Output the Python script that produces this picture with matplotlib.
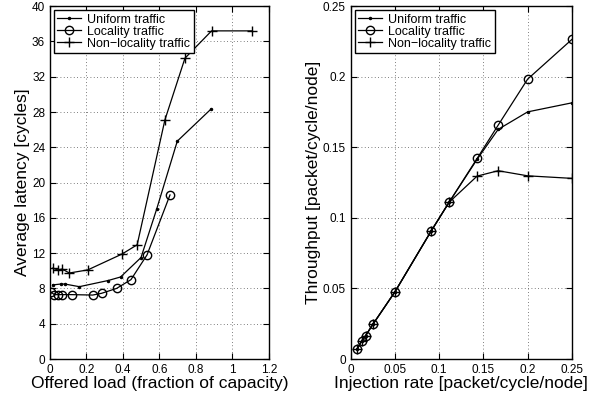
import matplotlib.pyplot as plt

plt.rcParams['font.family'] = ['Liberation Sans', 'DejaVu Sans']

# latency vs offered load
uni_load = [0.015, 0.059, 0.082, 0.161, 0.319, 0.387, 0.499, 0.585, 0.698, 0.881]
uni_lat = [8.4, 8.5, 8.5, 8.2, 8.9, 9.3, 11.5, 17.0, 24.7, 28.3]
loc_load = [0.005, 0.024, 0.042, 0.064, 0.119, 0.234, 0.283, 0.365, 0.444, 0.532, 0.658]
loc_lat = [7.6, 7.3, 7.3, 7.3, 7.3, 7.25, 7.45, 8.0, 9.0, 11.8, 18.6]
non_load = [0.015, 0.042, 0.067, 0.106, 0.207, 0.395, 0.478, 0.630, 0.740, 0.886, 1.108]
non_lat = [10.3, 10.1, 10.2, 9.75, 10.1, 11.9, 12.95, 27.1, 34.1, 37.2, 37.2]

# throughput vs injection rate
inj = [1/140, 1/80, 1/60, 1/40, 1/20, 1/11, 1/9, 1/7, 1/6, 1/5, 1/4]
thr_uni = [0.0071, 0.0130, 0.0165, 0.0246, 0.0477, 0.0907, 0.1110, 0.1415, 0.1627, 0.1751, 0.1815]
thr_loc = [0.0071, 0.0130, 0.0165, 0.0246, 0.0477, 0.0907, 0.1110, 0.1421, 0.1657, 0.1983, 0.2264]
thr_non = [0.0071, 0.0130, 0.0165, 0.0246, 0.0477, 0.0907, 0.1110, 0.1296, 0.1334, 0.1298, 0.1280]

labels = ['Uniform traffic', 'Locality traffic', 'Non\u2212locality traffic']

fig = plt.figure(figsize=(6.08, 3.96), dpi=100)
ax1 = fig.add_axes([0.0822, 0.0934, 0.360, 0.891])
ax2 = fig.add_axes([0.577, 0.0934, 0.3635, 0.891])

def style(ax):
    ax.grid(True, linestyle=(0, (1, 3)), color='#555555', linewidth=0.6)
    ax.tick_params(direction='in', top=True, right=True, labelsize=8.5, length=4, width=0.8)
    for s in ax.spines.values():
        s.set_linewidth(1.0)
    leg = ax.legend(loc='upper left', fontsize=9, frameon=True, fancybox=False,
                    edgecolor='black', framealpha=1, borderpad=0.3, labelspacing=0.0,
                    handlelength=1.9, handletextpad=0.5, borderaxespad=0.3)
    leg.get_frame().set_linewidth(1.0)

kw = dict(color='black', linewidth=0.9)
ax1.plot(uni_load, uni_lat, marker='.', markersize=3, label=labels[0], **kw)
ax1.plot(loc_load, loc_lat, marker='o', markersize=6, markerfacecolor='none', label=labels[1], **kw)
ax1.plot(non_load, non_lat, marker='+', markersize=6.5, label=labels[2], **kw)
ax1.set_xlim(0, 1.2)
ax1.set_ylim(0, 40)
ax1.set_xticks([0, 0.2, 0.4, 0.6, 0.8, 1, 1.2])
ax1.set_xticklabels(['0', '0.2', '0.4', '0.6', '0.8', '1', '1.2'])
ax1.set_yticks(range(0, 41, 4))
ax1.set_xlabel('Offered load (fraction of capacity)', fontsize=12.5, labelpad=0)
ax1.set_ylabel('Average latency [cycles]', fontsize=12.5, labelpad=1)
style(ax1)

ax2.plot(inj, thr_uni, marker='.', markersize=3, label=labels[0], **kw)
ax2.plot(inj, thr_loc, marker='o', markersize=6, markerfacecolor='none', label=labels[1], **kw)
ax2.plot(inj, thr_non, marker='+', markersize=6.5, label=labels[2], **kw)
ax2.set_xlim(0, 0.25)
ax2.set_ylim(0, 0.25)
ax2.set_xticks([0, 0.05, 0.1, 0.15, 0.2, 0.25])
ax2.set_xticklabels(['0', '0.05', '0.1', '0.15', '0.2', '0.25'])
ax2.set_yticks([0, 0.05, 0.1, 0.15, 0.2, 0.25])
ax2.set_yticklabels(['0', '0.05', '0.1', '0.15', '0.2', '0.25'])
ax2.set_xlabel('Injection rate [packet/cycle/node]', fontsize=12.5, labelpad=0)
ax2.set_ylabel('Throughput [packet/cycle/node]', fontsize=12.5, labelpad=1)
style(ax2)

fig.savefig('out.png', dpi=100)
